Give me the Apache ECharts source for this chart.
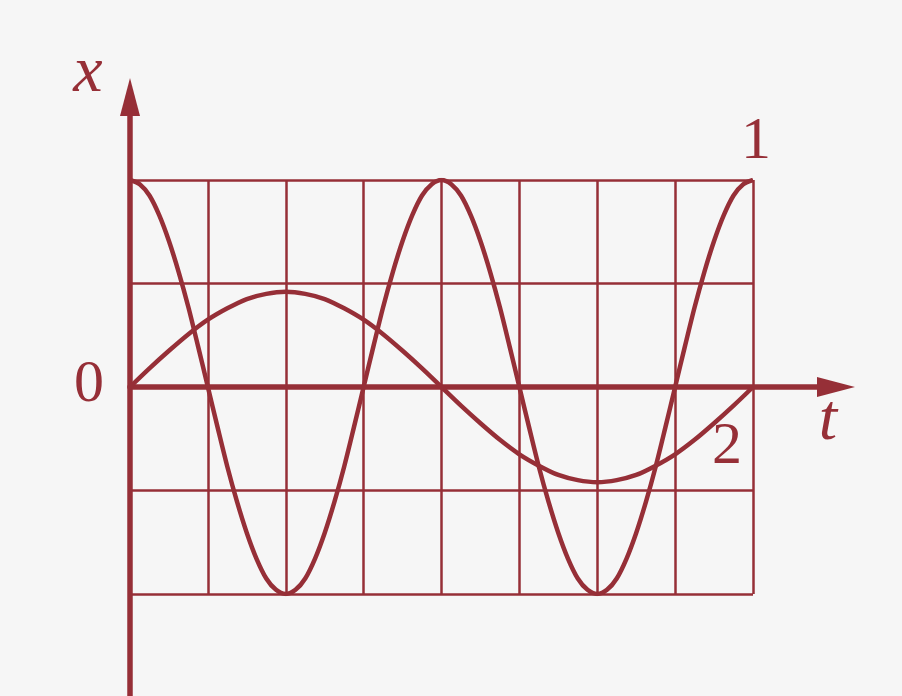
<!DOCTYPE html>
<html><head><meta charset="utf-8">
<script src="https://cdn.jsdelivr.net/npm/echarts@6/dist/echarts.min.js"></script>
<style>html,body{margin:0;padding:0;background:#f6f6f6}#c{width:902px;height:696px}</style>
</head><body><div id="c"></div>
<script>
// time values (grid units) and displacement (grid units)
const t1 = [0,0.125,0.25,0.375,0.5,0.625,0.75,0.875,1,1.125,1.25,1.375,1.5,1.625,1.75,1.875,2,2.125,2.25,2.375,2.5,2.625,2.75,2.875,3,3.125,3.25,3.375,3.5,3.625,3.75,3.875,4,4.125,4.25,4.375,4.5,4.625,4.75,4.875,5,5.125,5.25,5.375,5.5,5.625,5.75,5.875,6,6.125,6.25,6.375,6.5,6.625,6.75,6.875,7,7.125,7.25,7.375,7.5,7.625,7.75,7.875,8];
const curve1 = [2,1.96,1.85,1.66,1.41,1.11,0.77,0.39,0,-0.39,-0.77,-1.11,-1.41,-1.66,-1.85,-1.96,-2,-1.96,-1.85,-1.66,-1.41,-1.11,-0.77,-0.39,0,0.39,0.77,1.11,1.41,1.66,1.85,1.96,2,1.96,1.85,1.66,1.41,1.11,0.77,0.39,0,-0.39,-0.77,-1.11,-1.41,-1.66,-1.85,-1.96,-2,-1.96,-1.85,-1.66,-1.41,-1.11,-0.77,-0.39,0,0.39,0.77,1.11,1.41,1.66,1.85,1.96,2];
const t2 = [0,0.25,0.5,0.75,1,1.25,1.5,1.75,2,2.25,2.5,2.75,3,3.25,3.5,3.75,4,4.25,4.5,4.75,5,5.25,5.5,5.75,6,6.25,6.5,6.75,7,7.25,7.5,7.75,8];
const curve2 = [0,0.18,0.35,0.51,0.65,0.76,0.85,0.90,0.92,0.90,0.85,0.76,0.65,0.51,0.35,0.18,0,-0.18,-0.35,-0.51,-0.65,-0.76,-0.85,-0.90,-0.92,-0.90,-0.85,-0.76,-0.65,-0.51,-0.35,-0.18,0];
const curveNames = ['1','2'];
const axisNames = ['x','t','0'];

const C = '#962f37';
const chart = echarts.init(document.getElementById('c'));
const hidden = {show:false};
chart.setOption({
  backgroundColor:'#f6f6f6',
  animation:false,
  grid:[
    {left:130, top:180, width:623, height:414},
    {left:130, right:66, top:300, bottom:309},
    {left:130, width:100, top:97, bottom:0}
  ],
  xAxis:[
    {gridIndex:0, type:'value', min:0, max:8, interval:1,
     axisLine:hidden, axisTick:hidden, axisLabel:hidden,
     splitLine:{show:true, lineStyle:{color:C, width:2.5}}},
    {gridIndex:1, type:'value', min:0, max:1, position:'bottom',
     axisLine:{show:true, onZero:false, symbol:['none','triangle'], symbolSize:[20,38], lineStyle:{color:C, width:5.5}},
     axisTick:hidden, axisLabel:hidden, splitLine:hidden},
    {gridIndex:2, type:'value', min:0, max:1, show:false}
  ],
  yAxis:[
    {gridIndex:0, type:'value', min:-2, max:2, interval:1,
     axisLine:hidden, axisTick:hidden, axisLabel:hidden,
     splitLine:{show:true, lineStyle:{color:C, width:2.5}}},
    {gridIndex:1, type:'value', min:0, max:1, show:false},
    {gridIndex:2, type:'value', min:0, max:1, position:'left',
     axisLine:{show:true, onZero:false, symbol:['none','triangle'], symbolSize:[20,38], lineStyle:{color:C, width:5.5}},
     axisTick:hidden, axisLabel:hidden, splitLine:hidden}
  ],
  series:[
    {name:curveNames[0], type:'line', xAxisIndex:0, yAxisIndex:0, smooth:0.3, showSymbol:false,
     lineStyle:{color:C, width:4.5}, data:t1.map((t,i)=>[t,curve1[i]]), z:5},
    {name:curveNames[1], type:'line', xAxisIndex:0, yAxisIndex:0, smooth:0.3, showSymbol:false,
     lineStyle:{color:C, width:4.5}, data:t2.map((t,i)=>[t,curve2[i]]), z:5}
  ],
  graphic:[
    {type:'text', x:88, y:74, style:{text:axisNames[0], fill:C, font:'italic 66px "Liberation Serif"', align:'center', verticalAlign:'middle'}},
    {type:'text', x:828, y:422, style:{text:axisNames[1], fill:C, font:'italic 66px "Liberation Serif"', align:'center', verticalAlign:'middle'}},
    {type:'text', x:89, y:385, style:{text:axisNames[2], fill:C, font:'60px "Liberation Serif"', align:'center', verticalAlign:'middle'}},
    {type:'text', x:756, y:142, style:{text:curveNames[0], fill:C, font:'60px "Liberation Serif"', align:'center', verticalAlign:'middle'}},
    {type:'text', x:727, y:447, style:{text:curveNames[1], fill:C, font:'60px "Liberation Serif"', align:'center', verticalAlign:'middle'}}
  ]
});
</script></body></html>
